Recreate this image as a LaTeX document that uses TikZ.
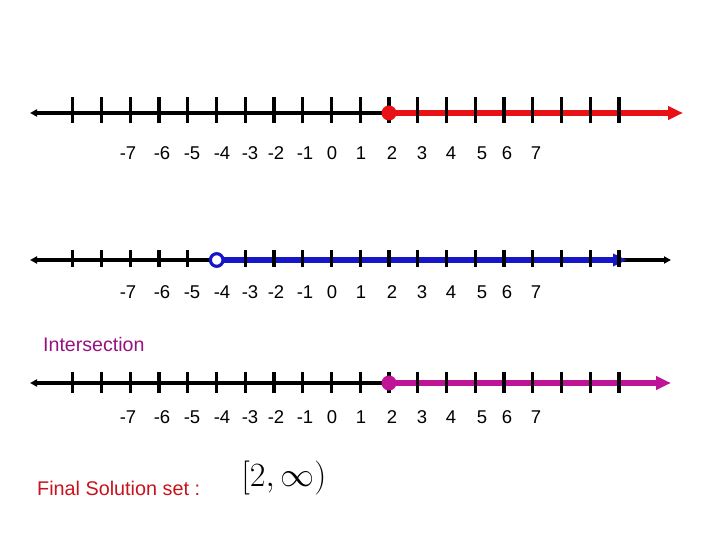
\RequirePackage{fix-cm}
\documentclass[tikz,border=0pt]{standalone}
\usepackage{fontspec}
\setmainfont{Liberation Sans}
\usetikzlibrary{arrows.meta}
\definecolor{myred}{RGB}{232,18,22}
\definecolor{myblue}{RGB}{22,22,200}
\definecolor{mypurple}{RGB}{192,20,150}
\definecolor{txtpurple}{RGB}{150,18,128}
\definecolor{txtred}{RGB}{200,18,28}
\begin{document}
\begin{tikzpicture}[x=1pt,y=-1pt,
  axis/.style={line width=3.2pt,black,-{Triangle[length=7pt,width=7pt]}},
  axisboth/.style={line width=3.2pt,black,{Triangle[length=7pt,width=7pt]}-{Triangle[length=7pt,width=7pt]}},
  tickmark/.style={line width=3.2pt,black},
  ray/.style={line width=6pt,-{Triangle[length=15pt,width=13pt]}},
  numlabel/.style={font=\fontsize{18.5}{22}\selectfont,inner sep=0pt,anchor=center},
  fulldot/.style={circle,inner sep=0pt,minimum size=15pt},
  opendot/.style={circle,draw=myblue,fill=white,line width=3pt,inner sep=0pt,minimum size=12.5pt}
]
\useasboundingbox (0,0) rectangle (720,540);

% ---------- line 1 ----------
\coordinate (l1left) at (30,113);
\coordinate (l1right) at (683,113);
\node[fulldot] (d1) at (389,113) {};
\draw[axis] (d1.center) -- (l1left);
\draw[ray,myred] (d1.center) -- (l1right);
\foreach \i in {0,...,19}{
  \draw[tickmark] ({72.7+\i*28.75},97.5) -- ++(0,26);
}
\node[fulldot,fill=myred] (d1) at (389,113) {};

% ---------- line 2 ----------
\coordinate (l2left) at (30,260);
\coordinate (l2right) at (671,260);
\coordinate (l2blue) at (627,260);
\draw[axisboth] (l2left) -- (l2right);
\node[opendot] (d2) at (216.7,260) {};
\draw[ray,myblue,-{Triangle[length=14pt,width=12pt]}] (d2.east) -- (l2blue);
\foreach \i in {0,...,19}{
  \ifnum\i=5\else
  \draw[tickmark] ({72.7+\i*28.75},250) -- ++(0,17);
  \fi
}
\node[opendot] (d2) at (216.7,260) {};

% ---------- line 3 ----------
\coordinate (l3left) at (30,383);
\coordinate (l3right) at (671,383);
\node[fulldot] (d3) at (389,383) {};
\draw[axis] (d3.center) -- (l3left);
\draw[ray,mypurple] (d3.center) -- (l3right);
\foreach \i in {0,...,19}{
  \draw[tickmark] ({72.7+\i*28.75},372) -- ++(0,21);
}
\node[fulldot,fill=mypurple] (d3) at (389,383) {};

% ---------- labels ----------
\foreach \v/\x [count=\k] in {-7/128,-6/162,-5/192,-4/222,-3/250,-2/276,-1/305,0/332,1/361,2/392,3/422,4/451,5/482,6/507,7/536}{
  \node[numlabel] (a\k) at (\x,153) {\v};
  \node[numlabel] (b\k) at (\x,292) {\v};
  \node[numlabel] (c\k) at (\x,417) {\v};
}

\node[font=\fontsize{19.6}{23}\selectfont,text=txtpurple,anchor=west,inner sep=0pt] (inter) at (43,344) {Intersection};
\node[font=\fontsize{19.8}{23}\selectfont,text=txtred,anchor=west,inner sep=0pt] (final) at (37,488) {Final Solution set :};
\node[font=\fontsize{34}{40}\selectfont,inner sep=0pt] (sol) at (284,478) {$[2,\infty)$};
\end{tikzpicture}
\end{document}
